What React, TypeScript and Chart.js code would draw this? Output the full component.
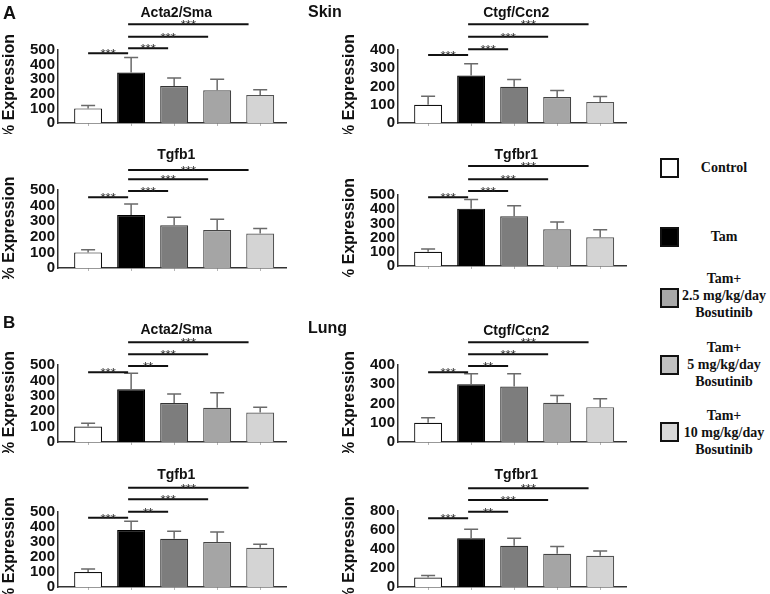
import React, { useEffect, useRef } from 'react';
import { Chart, registerables } from 'chart.js';
Chart.register(...registerables);

// ---------- data ----------
const groups = ['Control', 'Tam', 'Tam+ 2.5 mg/kg/day Bosutinib', 'Tam+ 5 mg/kg/day Bosutinib', 'Tam+ 10 mg/kg/day Bosutinib'];
const barColors = ['#ffffff', '#000000', '#7d7d7d', '#a5a5a5', '#d4d4d4'];
const barBorders = ['#111111', '#000000', '#333333', '#444444', '#555555'];
const legendColors = ['#ffffff', '#000000', '#a8a8a8', '#c0c0c0', '#d8d8d8'];

const skinActa2 = [100, 346, 253, 224, 191];
const skinActa2Err = [20, 103, 56, 76, 37];
const skinCtgf = [100, 260, 198, 142, 115];
const skinCtgfErr = [46, 64, 40, 36, 30];
const skinTgfb1 = [100, 340, 274, 243, 221];
const skinTgfb1Err = [17, 70, 51, 70, 32];
const skinTgfbr1 = [100, 404, 350, 258, 202];
const skinTgfbr1Err = [20, 65, 75, 52, 54];

const lungActa2 = [100, 342, 253, 222, 191];
const lungActa2Err = [22, 105, 59, 97, 35];
const lungCtgf = [100, 300, 288, 204, 181];
const lungCtgfErr = [26, 54, 66, 37, 44];
const lungTgfb1 = [100, 380, 322, 300, 262];
const lungTgfb1Err = [20, 58, 50, 66, 23];
const lungTgfbr1 = [100, 514, 434, 350, 329];
const lungTgfbr1Err = [22, 94, 80, 77, 49];

// significance comparisons (x positions in group units) and their labels
const sigPairs = [[0, 0.93], [0.93, 1.86], [0.93, 2.79], [0.93, 3.73]];
const skinStars = ['***', '***', '***', '***'];
const lungStars = ['***', '**', '***', '***'];

// heights of significance bars, in value units
const skinActa2Sig = [477, 512, 591, 676];
const skinCtgfSig = [373, 404, 473, 541];
const skinTgfb1Sig = [453, 494, 569, 628];
const skinTgfbr1Sig = [484, 528, 611, 704];
const lungActa2Sig = [453, 494, 569, 647];
const lungCtgfSig = [362, 395, 456, 518];
const lungTgfb1Sig = [462, 502, 585, 662];
const lungTgfbr1Sig = [723, 793, 916, 1039];

const yTicks400 = [0, 100, 200, 300, 400];
const yTicks500 = [0, 100, 200, 300, 400, 500];
const yTicks800 = [0, 200, 400, 600, 800];

const SANS = "'Liberation Sans', Arial, sans-serif";
const SERIF = "'Liberation Serif', 'Times New Roman', serif";

type PanelDef = {
  title: string; values: number[]; errors: number[]; ticks: number[];
  sig: number[]; titleLevel: number; stars: string[];
  left: number; canvasTop: number; chartTop: number; chartBottom: number;
};

const CW = 296;
const AXIS_W = 58;
const PLOT_W = 228;

function Panel({ p }: { p: PanelDef }) {
  const ref = useRef<HTMLCanvasElement>(null);
  const H = p.chartBottom - p.canvasTop + 11;
  useEffect(() => {
    const extras = {
      id: 'extras',
      afterDatasetsDraw(chart: any) {
        const ctx = chart.ctx;
        const xs = chart.scales.x;
        const ys = chart.scales.y;
        ctx.save();
        // error bars
        p.values.forEach((v, i) => {
          const x = xs.getPixelForValue(i);
          const y0 = ys.getPixelForValue(v);
          const y1 = ys.getPixelForValue(v + p.errors[i]);
          ctx.strokeStyle = '#6a6a6a';
          ctx.lineWidth = 1.5;
          ctx.beginPath();
          ctx.moveTo(x, y0);
          ctx.lineTo(x, y1);
          ctx.moveTo(x - 7, y1);
          ctx.lineTo(x + 7, y1);
          ctx.stroke();
        });
        // significance bars
        sigPairs.forEach(([a, b], k) => {
          const y = ys.getPixelForValue(p.sig[k]);
          const x1 = xs.getPixelForValue(a);
          const x2 = xs.getPixelForValue(b);
          ctx.strokeStyle = '#111';
          ctx.lineWidth = 2;
          ctx.beginPath();
          ctx.moveTo(x1, y);
          ctx.lineTo(x2, y);
          ctx.stroke();
          ctx.fillStyle = '#2a2a2a';
          ctx.font = `13px ${SANS}`;
          ctx.textAlign = 'center';
          ctx.textBaseline = 'alphabetic';
          ctx.fillText(p.stars[k], (x1 + x2) / 2, y + 5);
        });
        // title
        ctx.fillStyle = '#111';
        ctx.font = `bold 14px ${SANS}`;
        ctx.textAlign = 'center';
        ctx.textBaseline = 'middle';
        ctx.fillText(p.title, xs.getPixelForValue(2.05), ys.getPixelForValue(p.titleLevel));
        ctx.restore();
      },
    };
    const chart = new Chart(ref.current as HTMLCanvasElement, {
      type: 'bar',
      data: {
        labels: groups,
        datasets: [{
          data: p.values.map((v, i) => ({ x: i, y: v })) as any,
          backgroundColor: barColors,
          borderColor: barBorders,
          borderWidth: 1.2,
          categoryPercentage: 1,
          barPercentage: 0.65,
        }],
      },
      options: {
        animation: false,
        responsive: false,
        layout: { padding: { left: 0, right: CW - AXIS_W - PLOT_W, top: p.chartTop - p.canvasTop, bottom: 5 } },
        plugins: { legend: { display: false }, tooltip: { enabled: false } },
        scales: {
          x: {
            type: 'linear',
            min: -0.7,
            max: 4.6,
            offset: false,
            afterBuildTicks: (s: any) => { s.ticks = [0, 1, 2, 3, 4].map((v) => ({ value: v })); },
            afterFit: (s: any) => { s.height = 6; },
            ticks: { display: false },
            grid: { display: true, offset: false, drawOnChartArea: false, drawTicks: true, tickLength: 3, color: '#b5b5b5' },
            border: { display: true, color: '#333', width: 1.5 },
          },
          y: {
            min: 0,
            max: p.ticks[p.ticks.length - 1],
            afterBuildTicks: (s: any) => { s.ticks = p.ticks.map((v) => ({ value: v })); },
            afterFit: (s: any) => { s.width = AXIS_W; },
            ticks: { autoSkip: false, padding: 3, color: '#111', font: { family: SANS, size: 15, weight: 'bold', lineHeight: 1 } },
            grid: { display: false, drawTicks: false },
            border: { display: true, color: '#333', width: 1.5 },
            title: { display: true, text: '% Expression', color: '#111', padding: 0, font: { family: SANS, size: 16, weight: 'bold' } },
          },
        },
      } as any,
      plugins: [extras],
    });
    return () => chart.destroy();
  }, []);
  return (
    <canvas ref={ref} width={CW} height={H}
      style={{ position: 'absolute', left: p.left, top: p.canvasTop, width: CW, height: H }} />
  );
}

const L = 0;
const R = 340;

const panels: PanelDef[] = [
  { title: 'Acta2/Sma', values: skinActa2, errors: skinActa2Err, ticks: yTicks500, sig: skinActa2Sig, titleLevel: 751, stars: skinStars, left: L, canvasTop: 0, chartTop: 50, chartBottom: 123 },
  { title: 'Ctgf/Ccn2', values: skinCtgf, errors: skinCtgfErr, ticks: yTicks400, sig: skinCtgfSig, titleLevel: 601, stars: skinStars, left: R, canvasTop: 0, chartTop: 50, chartBottom: 123 },
  { title: 'Tgfb1', values: skinTgfb1, errors: skinTgfb1Err, ticks: yTicks500, sig: skinTgfb1Sig, titleLevel: 724, stars: skinStars, left: L, canvasTop: 140, chartTop: 190, chartBottom: 268 },
  { title: 'Tgfbr1', values: skinTgfbr1, errors: skinTgfbr1Err, ticks: yTicks500, sig: skinTgfbr1Sig, titleLevel: 782, stars: skinStars, left: R, canvasTop: 140, chartTop: 195, chartBottom: 266 },
  { title: 'Acta2/Sma', values: lungActa2, errors: lungActa2Err, ticks: yTicks500, sig: lungActa2Sig, titleLevel: 727, stars: lungStars, left: L, canvasTop: 315, chartTop: 365, chartBottom: 442 },
  { title: 'Ctgf/Ccn2', values: lungCtgf, errors: lungCtgfErr, ticks: yTicks400, sig: lungCtgfSig, titleLevel: 577, stars: lungStars, left: R, canvasTop: 315, chartTop: 365, chartBottom: 442 },
  { title: 'Tgfb1', values: lungTgfb1, errors: lungTgfb1Err, ticks: yTicks500, sig: lungTgfb1Sig, titleLevel: 747, stars: lungStars, left: L, canvasTop: 460, chartTop: 512, chartBottom: 587 },
  { title: 'Tgfbr1', values: lungTgfbr1, errors: lungTgfbr1Err, ticks: yTicks800, sig: lungTgfbr1Sig, titleLevel: 1179, stars: lungStars, left: R, canvasTop: 460, chartTop: 511, chartBottom: 587 },
];

const legendLines = [
  ['Control'],
  ['Tam'],
  ['Tam+', '2.5 mg/kg/day', 'Bosutinib'],
  ['Tam+', '5 mg/kg/day', 'Bosutinib'],
  ['Tam+', '10 mg/kg/day', 'Bosutinib'],
];
const legendBoxTop = [158, 227, 288, 355, 422];
const legendTextTop = [159, 228, 270, 339, 407];

function Legend() {
  return (
    <>
      {legendLines.map((lines, i) => (
        <React.Fragment key={i}>
          <div style={{ position: 'absolute', left: 660, top: legendBoxTop[i], width: 19, height: 20, boxSizing: 'border-box', border: '2.5px solid #111', background: legendColors[i] }} />
          <div style={{ position: 'absolute', left: 674, top: legendTextTop[i], width: 100, textAlign: 'center', font: `bold 14px ${SERIF}`, lineHeight: '17px', color: '#111' }}>
            {lines.map((t, k) => <div key={k}>{t}</div>)}
          </div>
        </React.Fragment>
      ))}
    </>
  );
}

export default function App() {
  const label = (t: string, left: number, top: number, size: number) => (
    <div style={{ position: 'absolute', left, top, font: `bold ${size}px ${SANS}`, lineHeight: `${size}px`, color: '#111' }}>{t}</div>
  );
  return (
    <div style={{ position: 'absolute', left: 0, top: 0, width: 770, height: 594, overflow: 'hidden', background: '#fff' }}>
      {panels.map((p, i) => <Panel key={i} p={p} />)}
      {label('A', 3, 4, 18)}
      {label('Skin', 308, 4, 16)}
      {label('B', 3, 314, 17)}
      {label('Lung', 308, 320, 16)}
      <Legend />
    </div>
  );
}
